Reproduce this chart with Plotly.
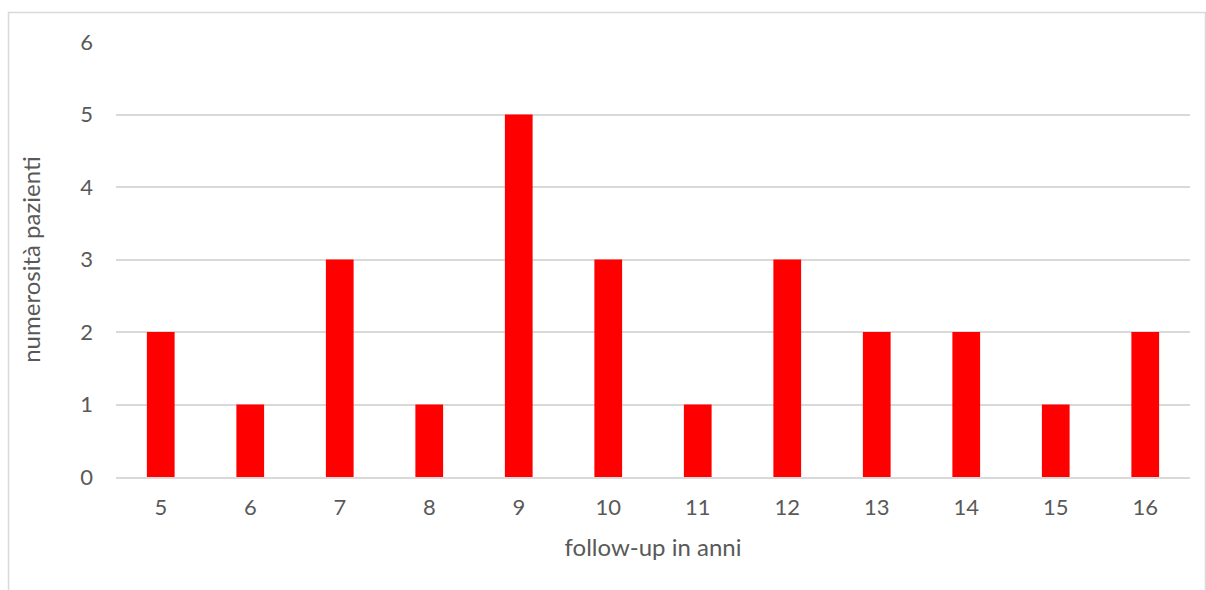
import plotly.graph_objects as go

# Follow-up distribution: number of patients per year of follow-up
anni = ["5", "6", "7", "8", "9", "10", "11", "12", "13", "14", "15", "16"]
pazienti = [2, 1, 3, 1, 5, 3, 1, 3, 2, 2, 1, 2]
y_ticks = [0, 1, 2, 3, 4, 5, 6]

W, H = 1206, 590
L, R, T, B = 116, 16, 42, 113
pw, ph = W - L - R, H - T - B

font_fam = "Lato, 'Open Sans', sans-serif"
grey = "#595959"
grid = "#d9d9d9"

fig = go.Figure(
    go.Bar(x=anni, y=pazienti, marker=dict(color="#ff0000", line=dict(width=0)))
)

fig.update_layout(
    width=W,
    height=H,
    margin=dict(l=L, r=R, t=T, b=B),
    plot_bgcolor="white",
    paper_bgcolor="white",
    bargap=0.69,
    showlegend=False,
    font=dict(family=font_fam, color=grey, size=22),
    shapes=[
        dict(
            type="rect",
            xref="paper",
            yref="paper",
            x0=(8.5 - L) / pw,
            x1=(1205.5 - L) / pw,
            y0=-0.5,
            y1=(H - B - 12.5) / ph,
            line=dict(color=grid, width=1.5),
            fillcolor="rgba(0,0,0,0)",
            layer="below",
        )
    ],
)

fig.update_xaxes(
    type="category",
    showgrid=False,
    showline=True,
    linecolor=grid,
    linewidth=1.5,
    ticks="",
    ticklabelstandoff=10,
    tickfont=dict(size=22, color=grey),
    title=dict(text="follow-up in anni", font=dict(size=24, color=grey), standoff=20),
)

fig.update_yaxes(
    range=[0, 6],
    tickvals=y_ticks,
    showgrid=True,
    gridcolor=grid,
    gridwidth=1.5,
    zeroline=False,
    ticks="",
    ticklabelstandoff=22,
    tickfont=dict(size=22, color=grey),
    title=dict(text="numerosità pazienti", font=dict(size=24, color=grey), standoff=32),
)

fig.write_html("out.html")
